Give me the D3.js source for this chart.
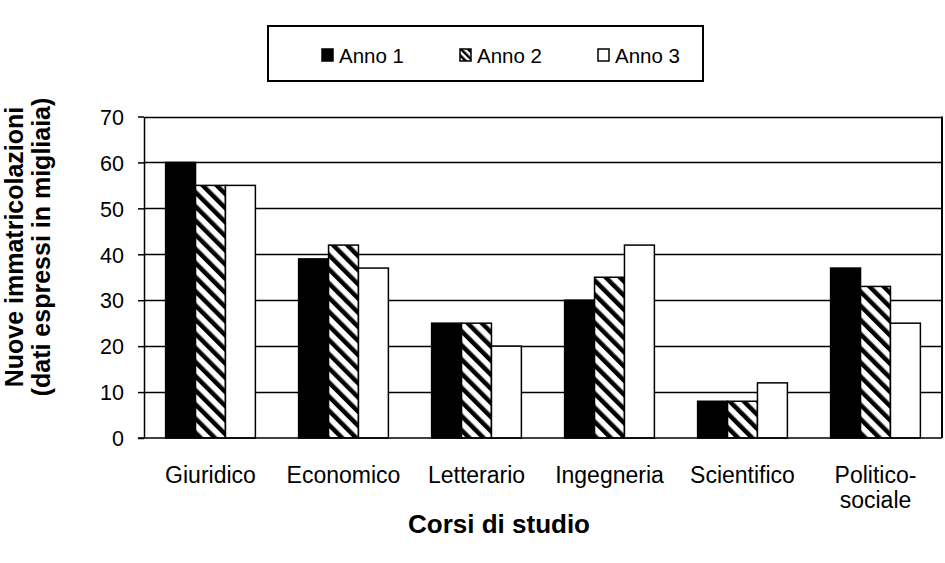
<!DOCTYPE html>
<html><head><meta charset="utf-8">
<script src="https://cdn.jsdelivr.net/npm/d3@7"></script>
<style>body{margin:0;background:#fff}svg{display:block}text{font-family:"Liberation Sans",Arial,sans-serif}</style>
</head><body><svg id="c" width="945" height="563"></svg>
<script>
const categories = ["Giuridico","Economico","Letterario","Ingegneria","Scientifico","Politico-sociale"];
const categoryLines = [["Giuridico"],["Economico"],["Letterario"],["Ingegneria"],["Scientifico"],["Politico-","sociale"]];
const seriesNames = ["Anno 1","Anno 2","Anno 3"];
const anno1 = [60,39,25,30,8,37];
const anno2 = [55,42,25,35,8,33];
const anno3 = [55,37,20,42,12,25];
const yTicks = [0,10,20,30,40,50,60,70];
const series = [anno1, anno2, anno3];

const svg = d3.select("#c");
const L = 144, R = 942, T = 116.5, B = 438;
const defs = svg.append("defs");
const pat = defs.append("pattern").attr("id","hatch").attr("patternUnits","userSpaceOnUse")
  .attr("width",10).attr("height",10).attr("patternTransform","rotate(-45)");
pat.append("rect").attr("width",10).attr("height",10).attr("fill","#fff");
pat.append("rect").attr("x",0).attr("y",0).attr("width",4.5).attr("height",10).attr("fill","#000");
const pat2 = defs.append("pattern").attr("id","hatchS").attr("patternUnits","userSpaceOnUse")
  .attr("width",5).attr("height",5).attr("patternTransform","rotate(-45)");
pat2.append("rect").attr("width",5).attr("height",5).attr("fill","#fff");
pat2.append("rect").attr("width",2.5).attr("height",5).attr("fill","#000");
const fills = ["#000","url(#hatch)","#fff"];

const y = d3.scaleLinear().domain([0,70]).range([B,T]);
const x0 = d3.scaleBand().domain(categories).range([L,R]).paddingInner(0.325).paddingOuter(0.1625);
const x1 = d3.scaleBand().domain(d3.range(3)).range([0,x0.bandwidth()]);

// gridlines
svg.append("g").selectAll("line").data(yTicks.filter(d=>d>0)).join("line")
  .attr("x1",L).attr("x2",R).attr("y1",d=>Math.round(y(d))+0.5).attr("y2",d=>Math.round(y(d))+0.5)
  .attr("stroke","#000").attr("stroke-width",1.5);
svg.append("line").attr("x1",R).attr("x2",R).attr("y1",T).attr("y2",B).attr("stroke","#000").attr("stroke-width",2);

// bars
categories.forEach((c,i)=>{
  series.forEach((s,j)=>{
    svg.append("rect").attr("x",x0(c)+x1(j)).attr("y",y(s[i])).attr("width",x1.bandwidth()).attr("height",B-y(s[i]))
      .attr("fill",fills[j]).attr("stroke","#000").attr("stroke-width",1.5);
  });
});

// y axis
const ya = svg.append("g").attr("transform",`translate(${L},0)`)
  .call(d3.axisLeft(y).tickValues(yTicks).tickSize(6).tickSizeOuter(0));
ya.select(".domain").attr("stroke-width",1.5);
ya.selectAll(".tick line").attr("stroke-width",1.5);
ya.selectAll(".tick text").attr("font-size",21.5).attr("fill","#000").attr("x",-20).attr("dy","0.36em").attr("font-family","Liberation Sans, Arial, sans-serif");
// x axis line
svg.append("line").attr("x1",L-6).attr("x2",R).attr("y1",B).attr("y2",B).attr("stroke","#000").attr("stroke-width",1.5);

// x labels
categories.forEach((c,i)=>{
  const cx = x0(c)+x0.bandwidth()/2;
  const t = svg.append("text").attr("x",cx).attr("y",483).attr("text-anchor","middle").attr("font-size",23);
  categoryLines[i].forEach((ln,k)=>t.append("tspan").attr("x",cx).attr("dy",k?25:0).text(ln));
});

svg.append("text").attr("x",499).attr("y",533).attr("text-anchor","middle").attr("font-size",26).attr("font-weight","bold").text("Corsi di studio");
svg.append("text").attr("transform","translate(23,247) rotate(-90)").attr("text-anchor","middle").attr("font-size",25).attr("font-weight","bold").text("Nuove immatricolazioni");
svg.append("text").attr("transform","translate(50,247) rotate(-90)").attr("text-anchor","middle").attr("font-size",25).attr("font-weight","bold").text("(dati espressi in migliaia)");

// legend
svg.append("rect").attr("x",268).attr("y",26).attr("width",435).attr("height",55).attr("fill","#fff").attr("stroke","#000").attr("stroke-width",2);
const lx = [322,460,598];
const lfills = ["#000","url(#hatchS)","#fff"];
seriesNames.forEach((n,j)=>{
  svg.append("rect").attr("x",lx[j]).attr("y",49).attr("width",11).attr("height",12).attr("fill",lfills[j]).attr("stroke","#000").attr("stroke-width",1.5);
  svg.append("text").attr("x",lx[j]+17).attr("y",63).attr("font-size",20.5).text(n);
});
</script></body></html>
